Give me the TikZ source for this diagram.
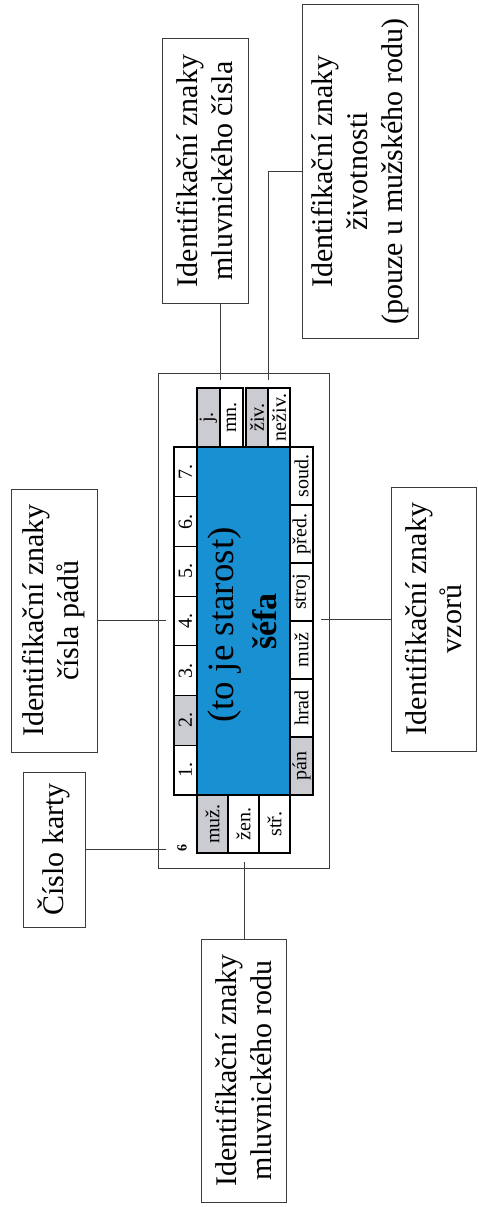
\documentclass[tikz,border=0pt]{standalone}
\usepackage{fontspec}
\setmainfont{Liberation Serif}
\definecolor{cellgray}{RGB}{203,204,209}
\definecolor{cardblue}{RGB}{24,144,210}
\definecolor{linegray}{RGB}{60,60,60}
\begin{document}
\begin{tikzpicture}[x=1pt,y=-1pt,
  lbl/.style={draw=linegray, line width=1pt, rotate=90, align=center, inner sep=0pt, font=\fontsize{30}{35}\selectfont},
  cellbox/.style={draw=black, line width=1.2pt, rotate=90, inner sep=0pt, font=\fontsize{20}{22}\selectfont},
  conn/.style={draw=linegray, line width=1pt}]
\useasboundingbox (0,0) rectangle (477,1207);
% label boxes
\node[lbl, minimum width=264pt, minimum height=86pt] (cisla) at (205,171) {Identifikační znaky\\mluvnického čísla};
\node[lbl, minimum width=333pt, minimum height=116pt] (ziv) at (360,171.5) {Identifikační znaky\\životnosti\\(pouze u mužského rodu)};
\node[lbl, minimum width=263pt, minimum height=86pt] (pady) at (54,620.5) {Identifikační znaky\\čísla pádů};
\node[lbl, minimum width=155pt, minimum height=62pt] (karty) at (54,849.5) {Číslo karty};
\node[lbl, minimum width=263pt, minimum height=85pt] (rodu) at (243.5,1070.5) {Identifikační znaky\\mluvnického rodu};
\node[lbl, minimum width=264pt, minimum height=85pt] (vzor) at (433.5,619) {Identifikační znaky\\vzorů};
% card
\node[draw=linegray, line width=1pt, minimum width=171pt, minimum height=495pt, inner sep=0pt] (card) at (243.5,620.5) {};
\node[draw=black, line width=1.2pt, fill=cardblue, minimum width=93pt, minimum height=348pt, inner sep=0pt] (blue) at (243.5,621) {};
% case numbers
\foreach \i/\f in {1/white,2/cellgray,3/white,4/white,5/white,6/white,7/white}
  \node[cellbox, fill=\f, minimum width=49.714pt, minimum height=23pt] (n\i) at (185.5,{795-(\i-0.5)*49.714}) {\i.};
% patterns
\foreach \i/\t/\f in {1/pán/cellgray,2/hrad/white,3/muž/white,4/stroj/white,5/před./white,6/soud./white}
  \node[cellbox, fill=\f, minimum width=58pt, minimum height=23pt] (p\i) at (301.5,{795-(\i-0.5)*58}) {\t};
% genders
\node[cellbox, fill=cellgray, minimum width=58pt, minimum height=31pt] (g1) at (212.5,824) {muž.};
\node[cellbox, fill=white, minimum width=58pt, minimum height=31pt] (g2) at (243.5,824) {žen.};
\node[cellbox, fill=white, minimum width=58pt, minimum height=31pt] (g3) at (274.5,824) {stř.};
% number and animacy
\node[cellbox, fill=cellgray, minimum width=59pt, minimum height=23pt] (j) at (208.5,417.5) {j.};
\node[cellbox, fill=white, minimum width=59pt, minimum height=23pt] (mn) at (231.5,417.5) {mn.};
\node[cellbox, fill=cellgray, minimum width=59pt, minimum height=22pt] (zv) at (257,417.5) {živ.};
\node[cellbox, fill=white, minimum width=59pt, minimum height=22pt] (nzv) at (279,417.5) {neživ.};
% card number
\node[rotate=90, inner sep=0pt, font=\bfseries\fontsize{14}{16}\selectfont] (num) at (182,848) {6};
% blue text
\node[rotate=90, anchor=base, inner sep=0pt, font=\fontsize{37}{40}\selectfont] (t1) at (233,625) {(to je starost)};
\node[rotate=90, anchor=base, inner sep=0pt, font=\bfseries\fontsize{34}{40}\selectfont] (t2) at (276,621.5) {šéfa};
% connectors
\coordinate (c1) at (220,380);
\coordinate (c2) at (268,380);
\coordinate (c3) at (166,621);
\coordinate (c4) at (166,849);
\coordinate (c5) at (244,862);
\coordinate (c6) at (321,621);
\draw[conn] (c1) -- (c1 |- cisla.west);
\draw[conn] (c2) |- (ziv.north);
\draw[conn] (pady.south) -- (pady.south -| c3);
\draw[conn] (karty.south) -- (karty.south -| c4);
\draw[conn] (c5) -- (c5 |- rodu.east);
\draw[conn] (vzor.north) -- (vzor.north -| c6);
\end{tikzpicture}
\end{document}
